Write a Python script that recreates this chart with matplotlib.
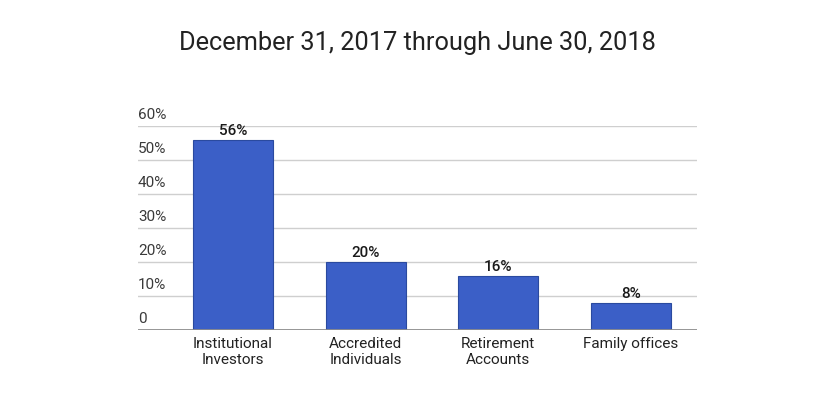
import matplotlib
matplotlib.use("Agg")
import matplotlib.pyplot as plt
import numpy as np

plt.rcParams['font.family'] = ['Roboto', 'DejaVu Sans']

# data
categories = ["Institutional\nInvestors", "Accredited\nIndividuals",
              "Retirement\nAccounts", "Family offices"]
shares = [56, 20, 16, 8]
y_ticks = [0, 10, 20, 30, 40, 50, 60]
y_labels = ["0", "10%", "20%", "30%", "40%", "50%", "60%"]

fig = plt.figure(figsize=(8.28, 3.96), dpi=100)
ax = fig.add_axes([138/828, 1 - 330/396, 559/828, 204/396])

x = np.arange(len(categories))
ax.bar(x, shares, width=0.603, color="#3b5fc7", edgecolor="#2a4a9f",
       linewidth=0.8, zorder=3)

for xi, v in zip(x, shares):
    ax.text(xi, v + 0.5, f"{v}%", ha="center", va="bottom",
            fontsize=11, color="#1a1a1a", fontweight="medium")

ax.set_xlim(-0.716, 3.497)
ax.set_ylim(0, 60)

# gridlines with labels above them (google-charts style)
for t, lab in zip(y_ticks, y_labels):
    if t > 0:
        ax.axhline(t, color="#cfcfcf", linewidth=1, zorder=1)
    ax.text(0, t + 1.2, lab, transform=ax.get_yaxis_transform(),
            ha="left", va="bottom", fontsize=11, color="#3a3a3a")
ax.axhline(0, color="#8c8c8c", linewidth=2, zorder=4)

ax.set_yticks([])
ax.set_xticks(x)
ax.set_xticklabels(categories, fontsize=11, color="#222222", linespacing=1.2)
ax.tick_params(axis="x", length=0, pad=5)
for s in ax.spines.values():
    s.set_visible(False)

fig.text(0.504, 1 - 43/396, "December 31, 2017 through June 30, 2018",
         ha="center", va="center", fontsize=18.3, color="#222222")

fig.savefig("out.png", dpi=100)
